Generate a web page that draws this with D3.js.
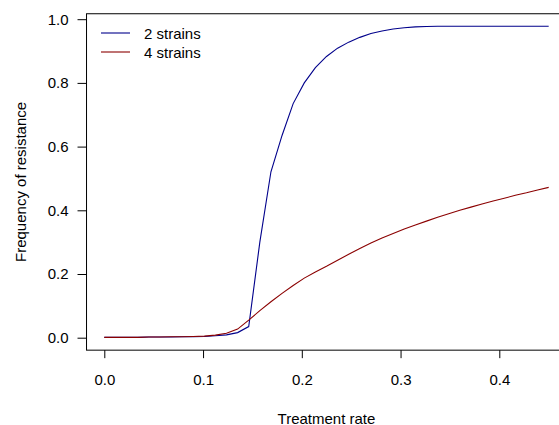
<!DOCTYPE html>
<html>
<head>
<meta charset="utf-8">
<script src="https://cdn.jsdelivr.net/npm/d3@7"></script>
<style>
  html, body { margin: 0; padding: 0; background: #fff; }
  svg { display: block; }
  text { font-family: "Liberation Sans", Arial, Helvetica, sans-serif; fill: #000; }
</style>
</head>
<body>
<svg id="chart" width="559" height="425"></svg>
<script>
// ---- data ----
const treatmentRate = [
  0.0, 0.01125, 0.0225, 0.03375, 0.045, 0.05625, 0.0675, 0.07875, 0.09, 0.10125,
  0.1125, 0.12375, 0.135, 0.14625, 0.1575, 0.16875, 0.18, 0.19125, 0.2025, 0.21375,
  0.225, 0.23625, 0.2475, 0.25875, 0.27, 0.28125, 0.2925, 0.30375, 0.315, 0.32625,
  0.3375, 0.34875, 0.36, 0.37125, 0.3825, 0.39375, 0.405, 0.41625, 0.4275, 0.43875,
  0.45
];
const strains2 = [
  0.001, 0.001, 0.001, 0.001, 0.002, 0.002, 0.002, 0.003, 0.003, 0.004,
  0.006, 0.009, 0.016, 0.035, 0.300, 0.521, 0.635, 0.735, 0.800, 0.848,
  0.883, 0.909, 0.928, 0.943, 0.955, 0.963, 0.969, 0.973, 0.976, 0.977,
  0.978, 0.978, 0.978, 0.978, 0.978, 0.978, 0.978, 0.978, 0.978, 0.978,
  0.978
];
const strains4 = [
  0.001, 0.001, 0.001, 0.001, 0.002, 0.002, 0.003, 0.003, 0.004, 0.005,
  0.008, 0.014, 0.027, 0.055, 0.085, 0.113, 0.139, 0.164, 0.187, 0.206,
  0.224, 0.243, 0.262, 0.280, 0.297, 0.313, 0.327, 0.341, 0.354, 0.366,
  0.378, 0.389, 0.400, 0.410, 0.420, 0.429, 0.438, 0.447, 0.455, 0.464,
  0.472
];
const xTicks = [0.0, 0.1, 0.2, 0.3, 0.4];
const yTicks = [0.0, 0.2, 0.4, 0.6, 0.8, 1.0];
const seriesNames = ["2 strains", "4 strains"];
const seriesColors = ["#00008B", "#8B0000"];

// ---- layout ----
const svg = d3.select("#chart");
const x = d3.scaleLinear().domain([0, 0.4]).range([104.3, 499.3]);
const y = d3.scaleLinear().domain([0, 1]).range([337.7, 19.2]);
const xPad = [-0.018, 0.468];
const yPad = [-0.04 * 0.978, 1.04 * 0.978];
const box = { x0: x(xPad[0]), x1: x(xPad[1]), y0: y(yPad[1]), y1: y(yPad[0]) };

// box
svg.append("rect")
  .attr("x", box.x0).attr("y", box.y0)
  .attr("width", box.x1 - box.x0).attr("height", box.y1 - box.y0)
  .attr("fill", "none").attr("stroke", "#000").attr("stroke-width", 1);

// x axis
const xAxis = d3.axisBottom(x).tickValues(xTicks).tickFormat(d3.format(".1f"))
  .tickSize(8).tickPadding(16);
const gx = svg.append("g").attr("transform", `translate(0,${box.y1})`).call(xAxis);
gx.select(".domain").remove();
gx.selectAll("text").attr("font-size", 15).attr("font-family", "Liberation Sans, Arial, sans-serif")
  .attr("fill", "#000");
gx.selectAll("line").attr("stroke", "#000");

// y axis
const yAxis = d3.axisLeft(y).tickValues(yTicks).tickFormat(d3.format(".1f"))
  .tickSize(9).tickPadding(9);
const gy = svg.append("g").attr("transform", `translate(${box.x0},0)`).call(yAxis);
gy.select(".domain").remove();
gy.selectAll("text").attr("font-size", 15).attr("font-family", "Liberation Sans, Arial, sans-serif")
  .attr("fill", "#000");
gy.selectAll("line").attr("stroke", "#000");

// axis titles
svg.append("text")
  .attr("x", (box.x0 + box.x1) / 2).attr("y", 418)
  .attr("text-anchor", "middle").attr("dominant-baseline", "central")
  .attr("font-size", 15).text("Treatment rate");
svg.append("text")
  .attr("transform", `translate(20,${(box.y0 + box.y1) / 2}) rotate(-90)`)
  .attr("text-anchor", "middle").attr("dominant-baseline", "central")
  .attr("font-size", 15).text("Frequency of resistance");

// lines
const line = d3.line().x(d => x(d[0])).y(d => y(d[1]));
[strains2, strains4].forEach((vals, i) => {
  svg.append("path")
    .datum(treatmentRate.map((t, j) => [t, vals[j]]))
    .attr("d", line)
    .attr("fill", "none")
    .attr("stroke", seriesColors[i])
    .attr("stroke-width", 1.1);
});

// legend
seriesNames.forEach((name, i) => {
  const ly = 33 + i * 19;
  svg.append("line")
    .attr("x1", 101).attr("x2", 130).attr("y1", ly).attr("y2", ly)
    .attr("stroke", seriesColors[i]).attr("stroke-width", 1.1);
  svg.append("text")
    .attr("x", 144).attr("y", ly)
    .attr("dominant-baseline", "central")
    .attr("font-size", 15).text(name);
});
</script>
</body>
</html>
